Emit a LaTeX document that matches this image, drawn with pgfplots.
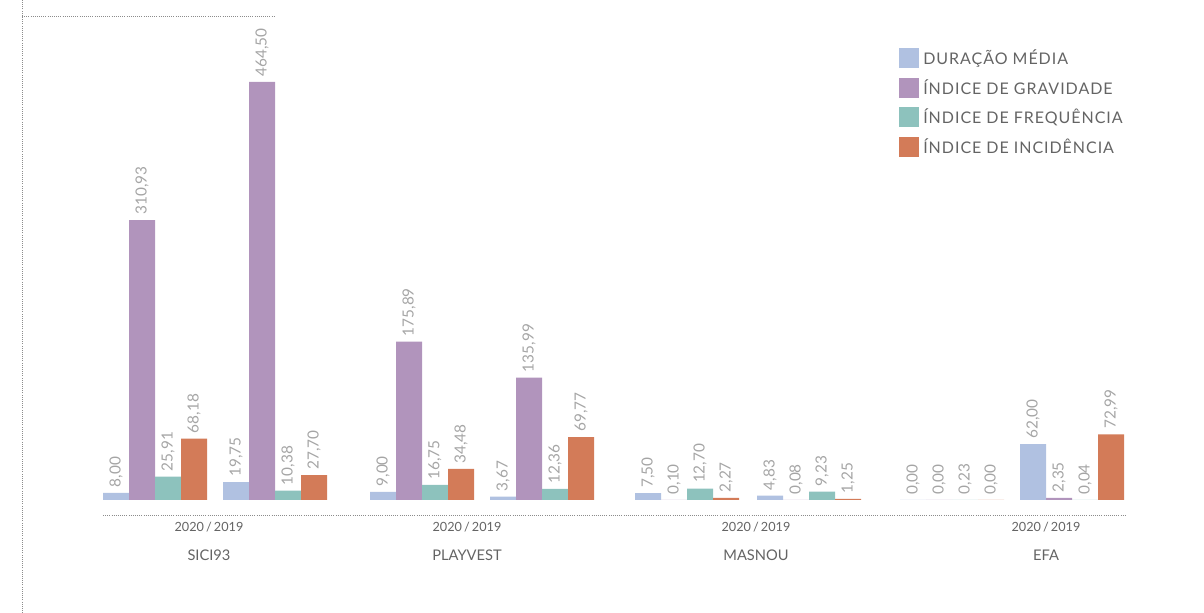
\documentclass[border=0pt]{standalone}
\usepackage{fontspec}
\setmainfont{Lato}
\usepackage{pgfplots}
\pgfplotsset{compat=1.18}
\definecolor{cblue}{RGB}{176,193,225}
\definecolor{cpurple}{RGB}{177,148,188}
\definecolor{cteal}{RGB}{141,194,189}
\definecolor{corange}{RGB}{211,123,88}
\definecolor{txt}{RGB}{100,100,100}
\definecolor{vlab}{RGB}{165,165,165}
\definecolor{dots}{RGB}{140,140,140}
\newcommand\tl[1]{{\fontsize{9.5}{11}\selectfont 2020\,/\,2019}\\[10pt]{\fontsize{11}{13}\selectfont #1}}
\begin{document}
\begin{tikzpicture}
\path[use as bounding box] (0,0) rectangle (903pt,459.75pt);
\draw[dots, densely dotted, line width=0.6pt] (16.5pt,0) -- (16.5pt,459.75pt);
\draw[dots, densely dotted, line width=0.6pt] (16.5pt,447.75pt) -- (206.25pt,447.75pt);
\begin{axis}[
  at={(77.25pt,73.5pt)}, anchor=south west,
  width=766.5pt, height=374.25pt, scale only axis,
  xmin=103, xmax=1125, ymin=-16.67, ymax=537.8,
  axis x line*=bottom, axis y line=none,
  x axis line style={dots, densely dotted, line width=0.6pt, -},
  ybar, bar width=19.5pt, bar shift=0pt,
  xtick={209,467,756,1046},
  xticklabels={\tl{SICI93},\tl{PLAYVEST},\tl{MASNOU},\tl{EFA}},
  major tick length=0pt,
  xticklabel style={align=center, text=txt, inner sep=0pt, yshift=-5pt},
  nodes near coords,
  every node near coord/.append style={rotate=90, anchor=west, font=\fontsize{11.5}{13}\selectfont, text=vlab, inner sep=4pt},
  /pgf/number format/fixed, /pgf/number format/fixed zerofill,
  /pgf/number format/precision=2, /pgf/number format/use comma,
  /pgf/number format/assume math mode=true,
  legend style={at={(0.775,0.946)}, anchor=north west, draw=none, fill=none,
    font=\fontsize{12}{14}\selectfont\addfontfeature{LetterSpace=6}, text=txt,
    row sep=3.5pt, column sep=0pt, nodes={inner sep=3pt}},
  legend cell align=left,
  legend image code/.code={\fill[#1] (0pt,-7.5pt) rectangle (15pt,7.5pt);},
]
\addplot[fill=cblue, draw=none] coordinates {(116,8.00) (236,19.75) (383,9.00) (503,3.67) (648,7.50) (770,4.83) (913,0.00) (1033,62.00)};
\addplot[fill=cpurple, draw=none] coordinates {(142,310.93) (262,464.50) (409,175.89) (529,135.99) (674,0.10) (796,0.08) (939,0.00) (1059,2.35)};
\addplot[fill=cteal, draw=none] coordinates {(168,25.91) (288,10.38) (435,16.75) (555,12.36) (700,12.70) (822,9.23) (965,0.23) (1085,0.04)};
\addplot[fill=corange, draw=none] coordinates {(194,68.18) (314,27.70) (461,34.48) (581,69.77) (726,2.27) (848,1.25) (991,0.00) (1111,72.99)};
\legend{DURAÇÃO MÉDIA, ÍNDICE DE GRAVIDADE, ÍNDICE DE FREQUÊNCIA, ÍNDICE DE INCIDÊNCIA}
\end{axis}
\end{tikzpicture}
\end{document}
